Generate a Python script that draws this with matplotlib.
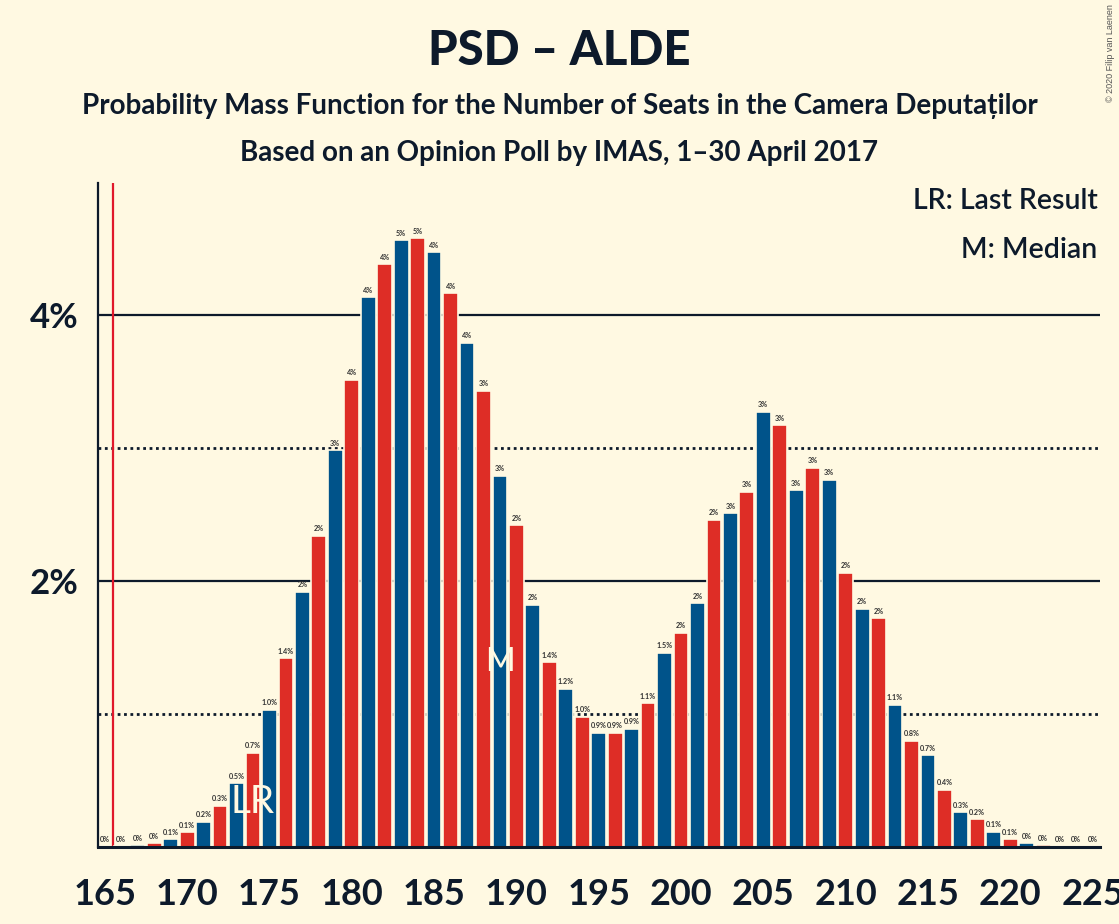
import matplotlib
matplotlib.use("Agg")
import matplotlib.pyplot as plt

plt.rcParams['font.family'] = ['Lato', 'DejaVu Sans']

# seats and probability (%)
seats = list(range(165, 226))
probs = [0.002, 0.005, 0.015, 0.03, 0.06, 0.11, 0.19, 0.31, 0.48, 0.71,
         1.03, 1.42, 1.92, 2.34, 2.98, 3.51, 4.13, 4.38, 4.56, 4.575,
         4.47, 4.16, 3.79, 3.43, 2.79, 2.42, 1.82, 1.39, 1.19, 0.98,
         0.86, 0.86, 0.89, 1.08, 1.46, 1.61, 1.83, 2.46, 2.51, 2.67,
         3.27, 3.17, 2.68, 2.85, 2.76, 2.06, 1.79, 1.72, 1.07, 0.80,
         0.69, 0.43, 0.26, 0.21, 0.115, 0.06, 0.03, 0.013, 0.004, 0.002,
         0.001]
x_ticks = [165, 170, 175, 180, 185, 190, 195, 200, 205, 210, 215, 220, 225]
y_ticks = [2, 4]
last_result = 174
median = 189
majority = 165.5

BG = "#FFF9E2"
INK = "#0D1A2B"
BLUE = "#00538A"
RED = "#DE2D26"


def fmt(v):
    if v < 0.05:
        return "0%"
    if round(v, 1) <= 1.5:
        return f"{v:.1f}%"
    return f"{v:.0f}%"


fig = plt.figure(figsize=(11.19, 9.24), dpi=100, facecolor=BG)
ax = fig.add_axes([0.0878, 0.0833, 0.8952, 0.7187], facecolor=BG)

# grid lines
for y in y_ticks:
    ax.axhline(y, color=INK, lw=1.6, zorder=0)
for y in [1, 3]:
    ax.axhline(y, color=INK, lw=2, linestyle=(0, (1, 1.3)), zorder=0)

colors = [BLUE if s % 2 else RED for s in seats]
ax.bar(seats, probs, width=0.9, color=colors, edgecolor=BG, linewidth=1.2, zorder=2)

for s, p in zip(seats, probs):
    ax.annotate(fmt(p), (s, p), xytext=(0, 2.5), textcoords="offset points",
                ha="center", va="bottom", fontsize=5.2, fontweight="bold",
                color="#333333", zorder=3)

ax.axvline(majority, color="#E0192B", lw=1.6, zorder=1)

ax.text(last_result, 0.34, "LR", ha="center", va="center", fontsize=28,
        color=BG, zorder=4)
ax.text(median, 1.39, "M", ha="center", va="center", fontsize=23,
        color=BG, zorder=4)

ax.set_xlim(164.6, 225.45)
ax.set_ylim(0, 4.99)
ax.set_xticks(x_ticks)
ax.set_xticklabels([str(t) for t in x_ticks], fontsize=26, fontweight="bold", color=INK)
ax.set_yticks(y_ticks)
ax.set_yticklabels([f"{t}%" for t in y_ticks], fontsize=25, fontweight="bold", color=INK)
ax.tick_params(length=0, pad=22)
ax.tick_params(axis="y", pad=14)
for side in ["top", "right"]:
    ax.spines[side].set_visible(False)
ax.spines["left"].set_linewidth(1.6)
ax.spines["bottom"].set_linewidth(2.2)
ax.spines["left"].set_color(INK)
ax.spines["bottom"].set_color(INK)

fig.text(0.5, 0.945, "PSD – ALDE", ha="center", va="center", fontsize=34,
         fontweight="black", color=INK)
fig.text(0.5, 0.885, "Probability Mass Function for the Number of Seats in the Camera Deputaților",
         ha="center", va="center", fontsize=20, fontweight="bold", color=INK)
fig.text(0.5, 0.834, "Based on an Opinion Poll by IMAS, 1–30 April 2017",
         ha="center", va="center", fontsize=20, fontweight="bold", color=INK)
fig.text(0.981, 0.774, "LR: Last Result", ha="right", va="baseline", fontsize=20.5,
         fontweight="semibold", color=INK)
fig.text(0.981, 0.721, "M: Median", ha="right", va="baseline", fontsize=20.5,
         fontweight="semibold", color=INK)
fig.text(0.992, 0.995, "© 2020 Filip van Laenen", ha="center", va="top", rotation=90,
         fontsize=6.5, color="#555555", family=["Liberation Sans", "DejaVu Sans"])

fig.savefig("out.png", dpi=100, facecolor=BG)
